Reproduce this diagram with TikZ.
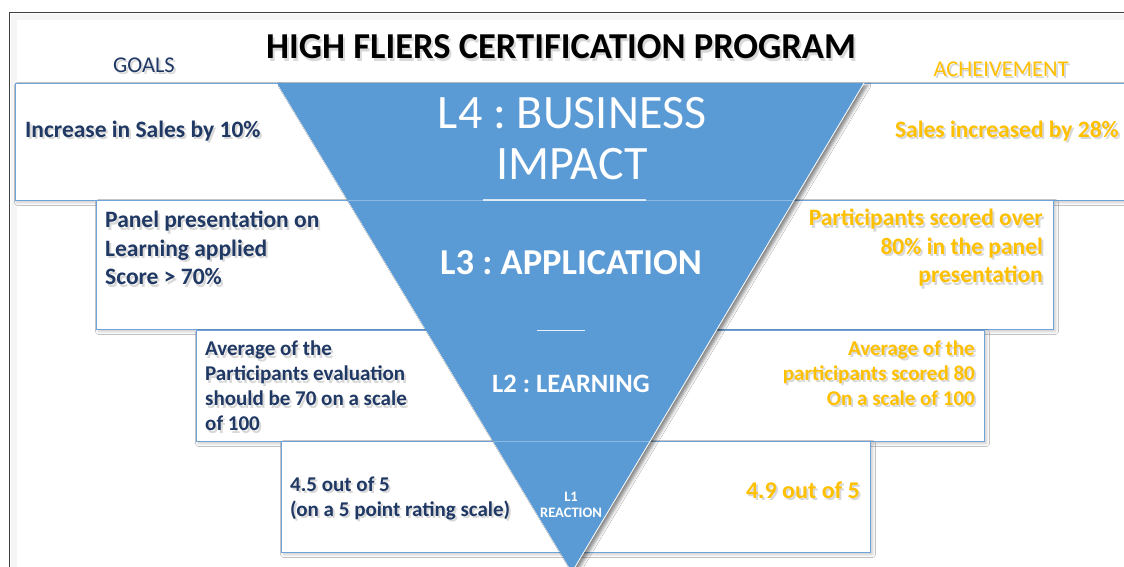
\documentclass[tikz,border=0pt]{standalone}
\usepackage{fontspec}
\setmainfont{Carlito}
\usetikzlibrary{shadows.blur}
\frenchspacing

\definecolor{funnel}{HTML}{5B9BD5}
\definecolor{boxline}{HTML}{6FA3D9}
\definecolor{navy}{HTML}{1F3864}
\definecolor{gold}{HTML}{FFC000}

\newcommand{\sz}[2]{\fontsize{#1}{#2}\selectfont}
% text with a soft grey copy underneath
\newcommand{\lbl}[4]{%
  \node[#1, text=black!60, text opacity=.25] (#2s) at ([shift={(2,2.5)}]#3) {#4};
  \node[#1] (#2) at (#3) {#4};}

\begin{document}
\begin{tikzpicture}[x=1pt, y=-1pt,
    rowbox/.style = {draw=boxline, line width=0.8pt, fill=white,
      blur shadow={shadow xshift=2.5pt, shadow yshift=-2.5pt, shadow opacity=22, shadow blur radius=3pt}},
    goal/.style = {text=navy, font=\bfseries\sz{23.5}{28.5}, align=left, anchor=west, inner sep=0pt},
    ach/.style = {text=gold, font=\bfseries\sz{23.5}{28.5}, align=right, anchor=east, inner sep=0pt},
    head/.style = {font=\sz{22.5}{26}, inner sep=0pt},
    lvl/.style = {text=white, align=center, inner sep=0pt}]
\useasboundingbox (0,0) rectangle (1124,567);
\fill[white] (0,0) rectangle (1124,567);

% frame
\draw[black!4, line width=6pt] (14,580) -- (14,17) -- (1140,17);
\draw[black!75, line width=0.8pt] (9,580) -- (9,12) -- (1140,12);

% rows, top one first
\draw[rowbox] (15,83) rectangle (1160,200);
\draw[rowbox] (96,200) rectangle (1053,329);
\draw[rowbox] (196,330) rectangle (984,441);
\draw[rowbox] (281,441) rectangle (870,552);

% funnel
\coordinate (tl) at (277,83);
\coordinate (tr) at (864,83);
\coordinate (tip) at (572,572);
\fill[funnel, blur shadow={shadow xshift=4pt, shadow yshift=-2pt, shadow opacity=45, shadow blur radius=3pt}]
  (tl) -- (tr) -- (tip) -- cycle;
\draw[white, line width=0.8pt] (tr) -- (tip);
\begin{scope}
  \clip (tl) -- (tr) -- (tip) -- cycle;
  \draw[white, opacity=.3, line width=0.8pt] (200,200) -- (900,200);
  \draw[white, opacity=.3, line width=0.8pt] (200,441) -- (900,441);
\end{scope}
\draw[white, opacity=.75, line width=1.2pt] (483,200) -- (646,200);
\draw[white, opacity=.85, line width=1pt] (537,330) -- (585,330);

% headings
\lbl{font=\bfseries\sz{36.5}{40}, inner sep=0pt}{title}{561,47}{HIGH FLIERS CERTIFICATION PROGRAM}
\lbl{head, text=navy}{goals}{144,65}{GOALS}
\lbl{head, text=gold}{ach}{1001,69}{ACHEIVEMENT}

% levels
\node[lvl, font=\sz{48}{51}] (l4) at (572,139) {L4 : BUSINESS\\IMPACT};
\node[lvl, font=\bfseries\sz{36.5}{40}] (l3) at (571,263) {L3 : APPLICATION};
\node[lvl, font=\bfseries\sz{26.5}{30}] (l2) at (571,384) {L2 : LEARNING};
\node[lvl, font=\bfseries\sz{14.5}{16}] (l1) at (571,505) {L1\\REACTION};

% goals
\lbl{goal}{g4}{25,131}{Increase in Sales by 10\%}
\lbl{goal}{g3}{105,248}{Panel presentation on\\Learning applied\\Score > 70\%}
\lbl{goal, font=\bfseries\sz{21}{25}}{g2}{205,386}{Average of the\\Participants evaluation\\should be 70 on a scale\\of 100}
\lbl{goal, font=\bfseries\sz{21}{25}}{g1}{290,498}{4.5 out of 5\\(on a 5 point rating scale)}

% achievements
\lbl{ach}{a4}{1119,131}{Sales increased by 28\%}
\lbl{ach}{a3}{1043,248}{Participants scored over\\80\% in the panel\\presentation}
\lbl{ach, font=\bfseries\sz{21}{25}}{a2}{975,373}{Average of the\\participants scored 80\\On a scale of 100}
\lbl{ach, font=\bfseries\sz{24}{28}}{a1}{860,490}{4.9 out of 5}
\end{tikzpicture}
\end{document}
